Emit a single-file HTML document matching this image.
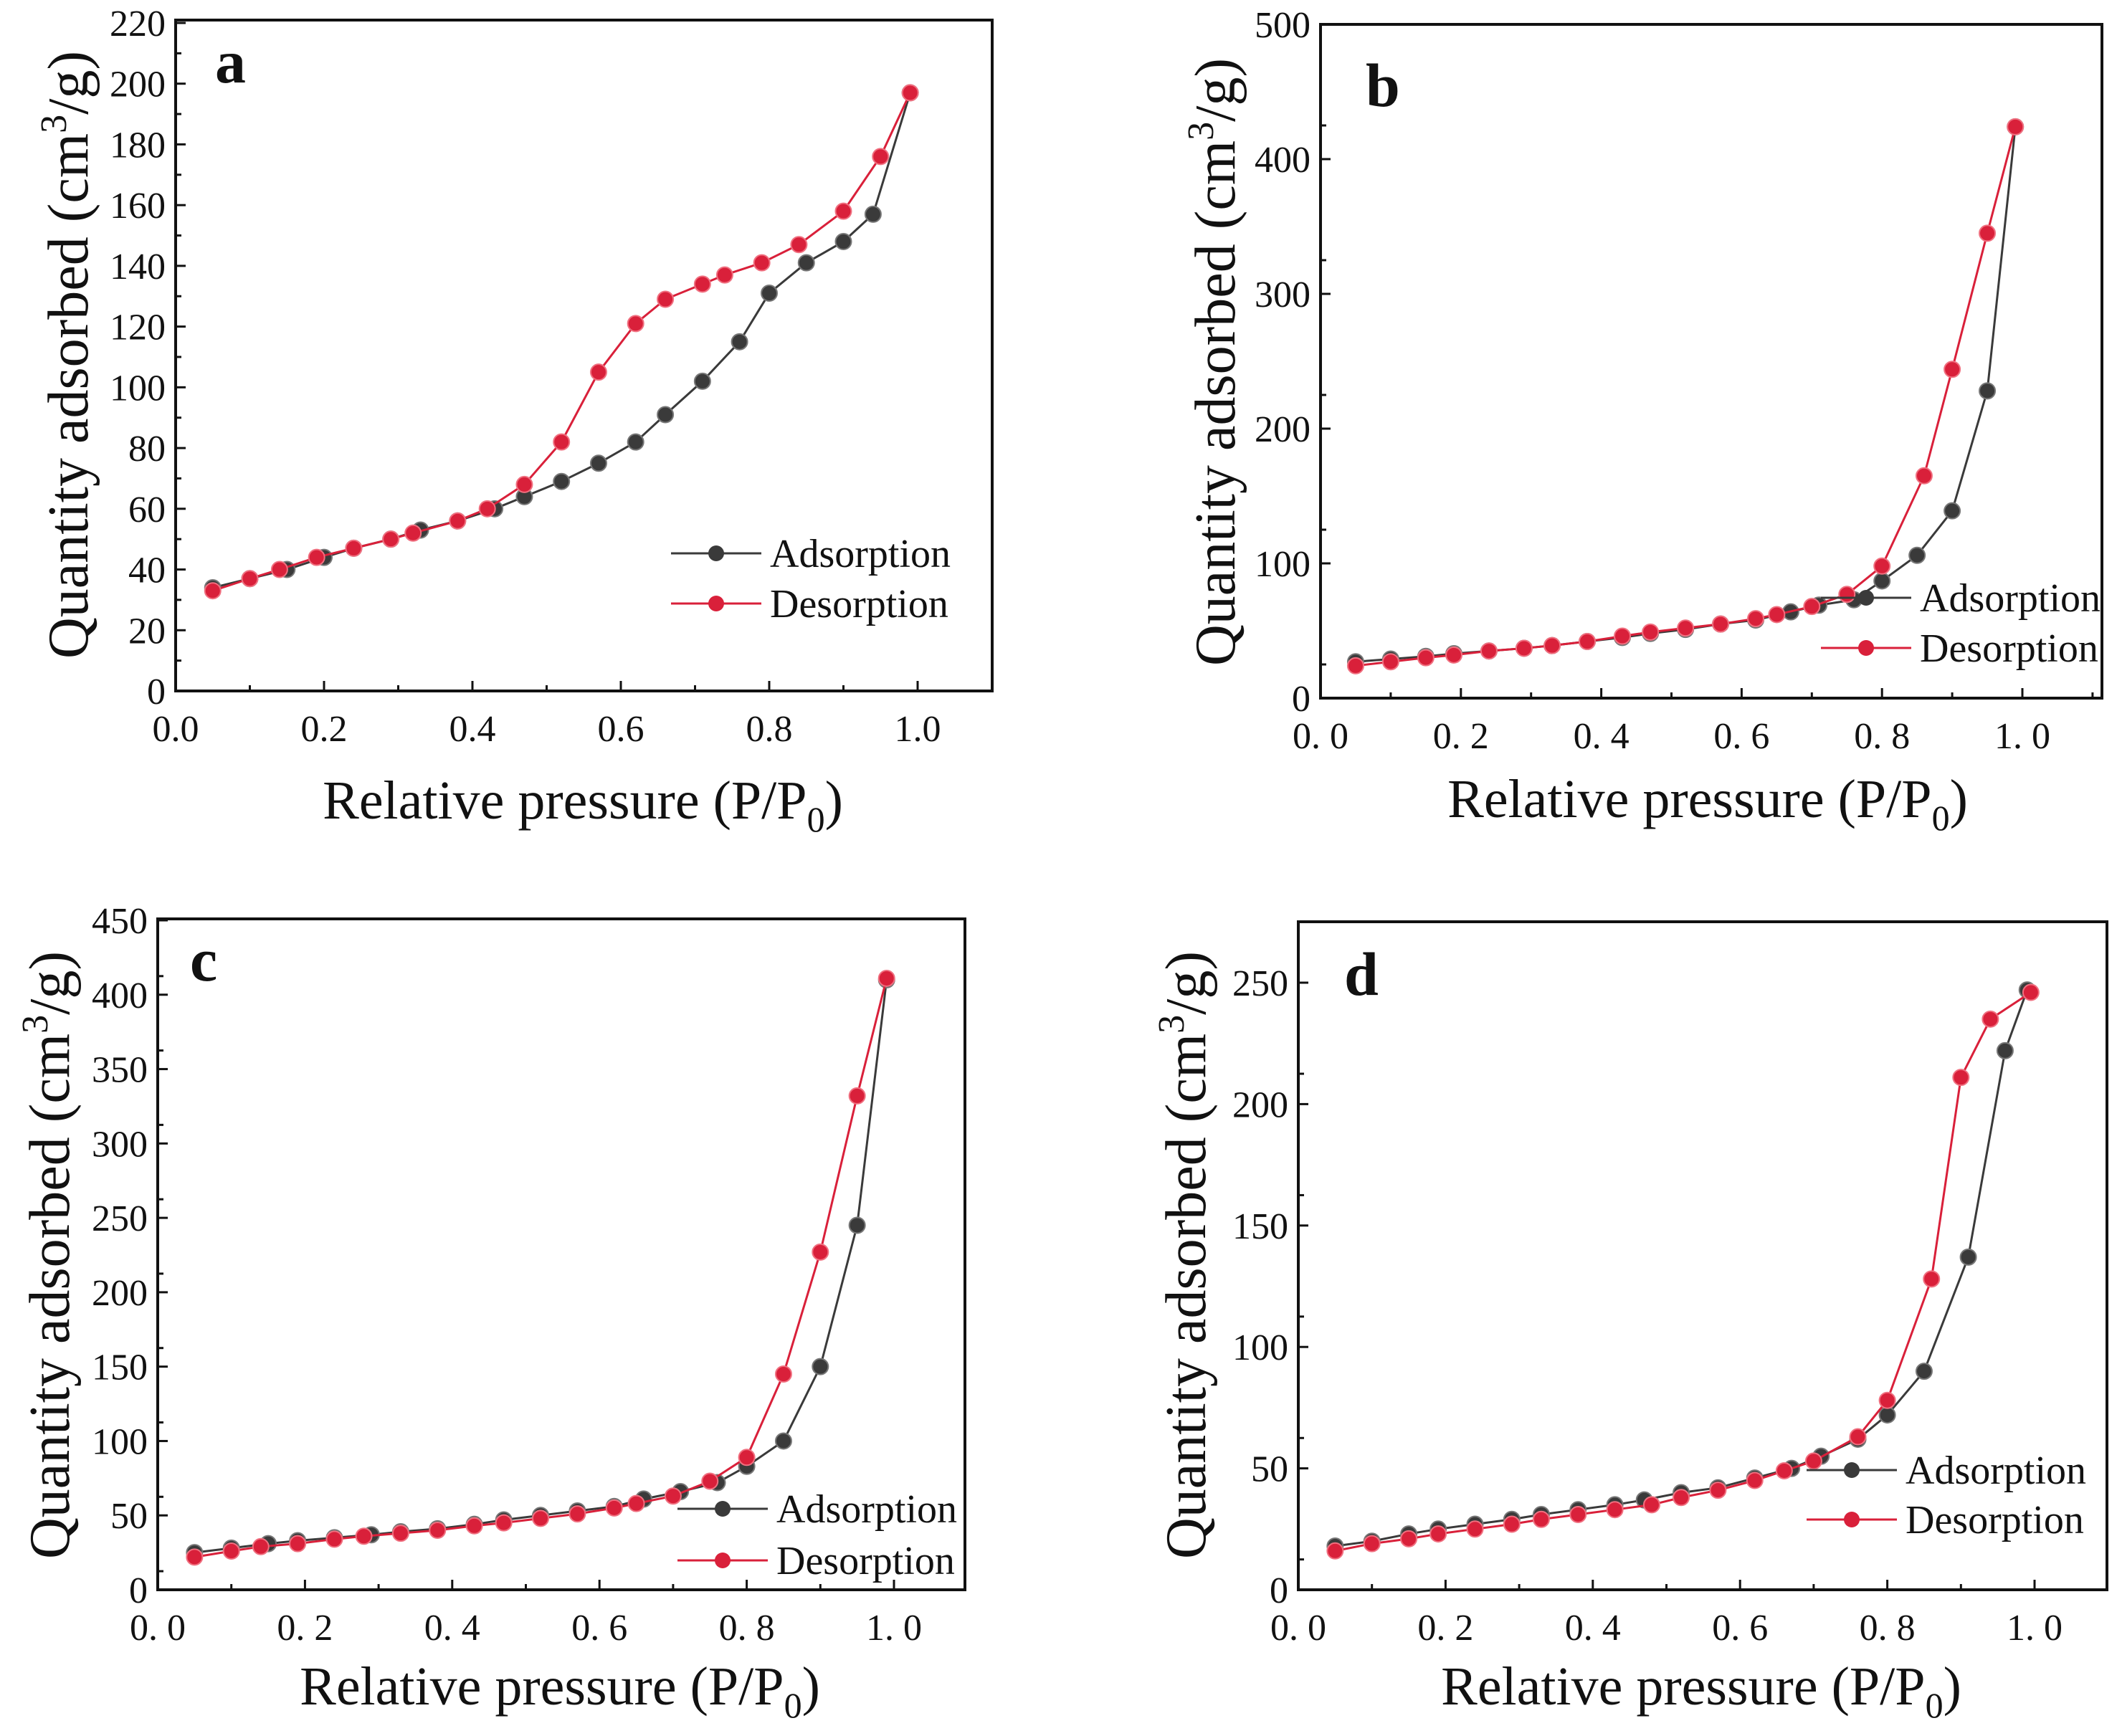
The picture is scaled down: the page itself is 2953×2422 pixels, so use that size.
<!DOCTYPE html>
<html><head><meta charset="utf-8"><style>
html,body{margin:0;padding:0;background:#fff;}
svg{display:block;}
text,tspan{font-family:"Liberation Serif",serif;fill:#111;}
</style></head><body>
<svg id="fig" width="2953" height="2422" viewBox="0 0 2953 2422"></svg>
<script>
const aX=[0.05,0.1,0.15,0.2,0.24,0.29,0.33,0.38,0.43,0.47,0.52,0.57,0.62,0.66,0.71,0.76,0.8,0.85,0.9,0.94,0.99];
const aAds=[34,37,40,44,47,50,53,56,60,64,69,75,82,91,102,115,131,141,148,157,197];
const aDx=[0.05,0.1,0.14,0.19,0.24,0.29,0.32,0.38,0.42,0.47,0.52,0.57,0.62,0.66,0.71,0.74,0.79,0.84,0.9,0.95,0.99];
const aDes=[33,37,40,44,47,50,52,56,60,68,82,105,121,129,134,137,141,147,158,176,197];
const bX=[0.05,0.1,0.15,0.19,0.24,0.29,0.33,0.38,0.43,0.47,0.52,0.57,0.62,0.67,0.71,0.76,0.8,0.85,0.9,0.95,0.99];
const bAds=[27,29,31,33,35,37,39,42,45,48,51,55,58,64,69,73,87,106,139,228,424];
const bDx=[0.05,0.1,0.15,0.19,0.24,0.29,0.33,0.38,0.43,0.47,0.52,0.57,0.62,0.65,0.7,0.75,0.8,0.86,0.9,0.95,0.99];
const bDes=[24,27,30,32,35,37,39,42,46,49,52,55,59,62,68,77,98,165,244,345,424];
const cX=[0.05,0.1,0.15,0.19,0.24,0.29,0.33,0.38,0.43,0.47,0.52,0.57,0.62,0.66,0.71,0.76,0.8,0.85,0.9,0.95,0.99];
const cAds=[25,28,31,33,35,37,39,41,44,47,50,53,56,61,66,72,83,100,150,245,410];
const cDx=[0.05,0.1,0.14,0.19,0.24,0.28,0.33,0.38,0.43,0.47,0.52,0.57,0.62,0.65,0.7,0.75,0.8,0.85,0.9,0.95,0.99];
const cDes=[22,26,29,31,34,36,38,40,43,45,48,51,55,58,63,73,89,145,227,332,411];
const dX=[0.05,0.1,0.15,0.19,0.24,0.29,0.33,0.38,0.43,0.47,0.52,0.57,0.62,0.67,0.71,0.76,0.8,0.85,0.91,0.96,0.99];
const dAds=[18,20,23,25,27,29,31,33,35,37,40,42,46,50,55,62,72,90,137,222,247];
const dDx=[0.05,0.1,0.15,0.19,0.24,0.29,0.33,0.38,0.43,0.48,0.52,0.57,0.62,0.66,0.7,0.76,0.8,0.86,0.9,0.94,0.995];
const dDes=[16,19,21,23,25,27,29,31,33,35,38,41,45,49,53,63,78,128,211,235,246];
const xTicks=[0,0.2,0.4,0.6,0.8,1.0];
const xLabA=["0.0","0.2","0.4","0.6","0.8","1.0"];
const xLabB=["0. 0","0. 2","0. 4","0. 6","0. 8","1. 0"];
const yTicksA=[0,20,40,60,80,100,120,140,160,180,200,220];
const yTicksB=[0,100,200,300,400,500];
const yTicksC=[0,50,100,150,200,250,300,350,400,450];
const yTicksD=[0,50,100,150,200,250];

const NS="http://www.w3.org/2000/svg";
const svg=document.getElementById('fig');
const FF='"Liberation Serif", serif';
function el(tag,attrs,parent,txt){const e=document.createElementNS(NS,tag);for(const k in attrs)e.setAttribute(k,attrs[k]);if(tag==='text'||tag==='tspan')e.setAttribute('font-family',FF);if(txt!==undefined)e.textContent=txt;(parent||svg).appendChild(e);return e;}

function panel(p){
  const g=el('g',{});
  
  
  const sx=v=>p.x0+(p.x1-p.x0)*v;
  const sy=v=>p.yb-(p.yb-p.yTop)*v/p.yMax;
  const fr=el('rect',{x:p.L,y:p.T,width:p.R-p.L,height:p.B-p.T,fill:'none',stroke:'#111','stroke-width':4},g);
  
  
  xTicks.forEach((t,i)=>{
    const x=sx(t);
    el('line',{x1:x,y1:p.B,x2:x,y2:p.B-14,stroke:'#111','stroke-width':3},g);
    const mx=sx(t+0.1);
    if(mx<p.R) el('line',{x1:mx,y1:p.B,x2:mx,y2:p.B-8,stroke:'#111','stroke-width':3},g);
    const tx=el('text',{x:x,y:p.B+70,'font-size':52,'text-anchor':'middle'},g,p.xl[i]);
    
    
  });
  p.yt.forEach((t,i)=>{
    const y=sy(t);
    el('line',{x1:p.L,y1:y,x2:p.L+14,y2:y,stroke:'#111','stroke-width':3},g);
    if(i<p.yt.length-1){const my=sy(t+p.step/2);el('line',{x1:p.L,y1:my,x2:p.L+8,y2:my,stroke:'#111','stroke-width':3},g);}
    const ty=el('text',{x:p.L-14,y:y+18,'font-size':52,'text-anchor':'end'},g,String(t));
    
    
  });
  const xt=el('text',{x:p.xtx,y:p.xty,'font-size':76,'text-anchor':'middle'},g);
  
  
  xt.appendChild(document.createTextNode('Relative pressure (P/P'));
  el('tspan',{'font-size':50,dy:18},xt,'0');
  el('tspan',{dy:-18},xt,')');
  const yt=el('text',{x:0,y:0,'font-size':80,'text-anchor':'middle',transform:`translate(${p.ytx},${p.yty}) rotate(-90)`},g);
  
  
  yt.appendChild(document.createTextNode('Quantity adsorbed (cm'));
  el('tspan',{'font-size':52,dy:-30},yt,'3');
  el('tspan',{dy:30},yt,'/g)');
  const lb=el('text',{x:p.lx,y:p.ly,'font-size':86,'font-weight':'bold'},g,p.id);
  
  
  function series(xs,ys,col,name){
    const sg=el('g',{},g);
    
    
    const pts=xs.map((x,i)=>sx(x)+','+sy(ys[i])).join(' ');
    el('polyline',{points:pts,fill:'none',stroke:col,'stroke-width':3},sg);
    xs.forEach((x,i)=>{
      const c=el('circle',{cx:sx(x),cy:sy(ys[i]),r:11,fill:col,stroke:col==='#d9203a'?'#f07080':'#777','stroke-width':2},sg);
      
      
    });
  }
  series(p.ax,p.ad,'#3a3a3a','adsorption');
  series(p.dx,p.dd,'#d9203a','desorption');
  [['Adsorption','#3a3a3a',p.lg1],['Desorption','#d9203a',p.lg2]].forEach(([n,c,y])=>{
    const lg=el('g',{},g);
    
    
    el('line',{x1:p.lgx,y1:y,x2:p.lgx+126,y2:y,stroke:c,'stroke-width':3},lg);
    el('circle',{cx:p.lgx+63,cy:y,r:11,fill:c},lg);
    el('text',{x:p.lgx+138,y:y+19,'font-size':56},lg,n);
  });
}
panel({id:'a',L:245,R:1384,T:28,B:964,x0:245,x1:1280,yb:964,yTop:32,yMax:220,yt:yTicksA,step:20,xl:xLabA,ax:aX,ad:aAds,dx:aDx,dd:aDes,xtx:813,xty:1142,ytx:122,yty:495,lx:300,ly:115,lgx:936,lg1:772,lg2:842});
panel({id:'b',L:1842,R:2932,T:34,B:974,x0:1842,x1:2821,yb:974,yTop:34,yMax:500,yt:yTicksB,step:50,xl:xLabB,ax:bX,ad:bAds,dx:bDx,dd:bDes,xtx:2382,xty:1140,ytx:1722,yty:505,lx:1905,ly:148,lgx:2540,lg1:834,lg2:904});
panel({id:'c',L:220,R:1346,T:1282,B:2218,x0:220,x1:1247,yb:2218,yTop:1284,yMax:450,yt:yTicksC,step:25,xl:xLabB,ax:cX,ad:cAds,dx:cDx,dd:cDes,xtx:781,xty:2378,ytx:96,yty:1751,lx:265,ly:1368,lgx:945,lg1:2105,lg2:2177});
panel({id:'d',L:1811,R:2939,T:1286,B:2218,x0:1811,x1:2838,yb:2218,yTop:1371,yMax:250,yt:yTicksD,step:25,xl:xLabB,ax:dX,ad:dAds,dx:dDx,dd:dDes,xtx:2373,xty:2378,ytx:1681,yty:1751,lx:1875,ly:1388,lgx:2520,lg1:2051,lg2:2120});
</script>
</body></html>
